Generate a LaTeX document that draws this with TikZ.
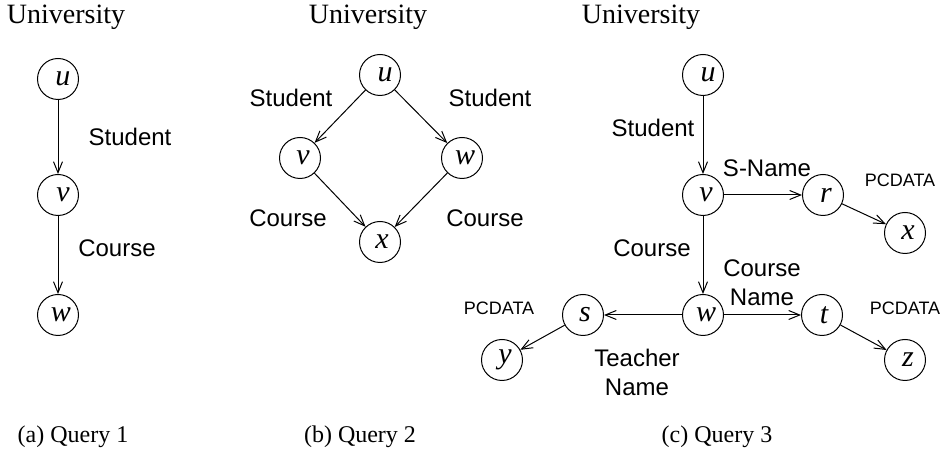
\documentclass[tikz,border=0pt]{standalone}
\usepackage{fontspec}
\setmainfont{Liberation Serif}
\setsansfont{Liberation Sans}
\usetikzlibrary{arrows.meta}
\begin{document}
\begin{tikzpicture}[x=0.5pt,y=-0.5pt,
  nd/.style={circle,draw,line width=0.5pt,minimum size=20.5pt,inner sep=0pt,font=\fontsize{15}{15}\selectfont\itshape},
  ed/.style={line width=0.5pt,-{Straight Barb[length=5.5pt,width=4.5pt]}},
  lb/.style={font=\fontsize{12}{14.5}\selectfont\sffamily,align=center},
  sm/.style={font=\fontsize{9}{10}\selectfont\sffamily},
  tt/.style={font=\fontsize{14}{16}\selectfont},
  captxt/.style={font=\fontsize{12}{14}\selectfont}]
\useasboundingbox (0,0) rectangle (948,458);
% (a)
\node[tt] (ta) at (66,17) {University};
\node[nd] (au) at (58,79) {\hspace*{5pt}u};
\node[nd] (av) at (58,195) {\hspace*{5pt}v};
\node[nd] (aw) at (58,315) {\hspace*{3pt}w};
\draw[ed] (au) -- (av);
\draw[ed] (av) -- (aw);
\node[lb] (al1) at (130,137) {Student};
\node[lb] (al2) at (117,248) {Course};
\node[captxt] (ca) at (73,437) {(a) Query 1};
% (b)
\node[tt] (tb) at (368,17) {University};
\node[nd] (bu) at (380,75) {\hspace*{5pt}u};
\node[nd] (bv) at (300,158) {\hspace*{3pt}v};
\node[nd] (bw) at (462,158) {\hspace*{3pt}w};
\node[nd] (bx) at (380,242) {\hspace*{2pt}x};
\draw[ed] (bu) -- (bv);
\draw[ed] (bu) -- (bw);
\draw[ed] (bv) -- (bx);
\draw[ed] (bw) -- (bx);
\node[lb] (bl1) at (291,98) {Student};
\node[lb] (bl2) at (490,98) {Student};
\node[lb] (bl3) at (288,218) {Course};
\node[lb] (bl4) at (485,218) {Course};
\node[captxt] (cb) at (360,437) {(b) Query 2};
% (c)
\node[tt] (tc) at (641,17) {University};
\node[nd] (cu) at (703,75) {\hspace*{5pt}u};
\node[nd] (cv) at (703,195) {\hspace*{3pt}v};
\node[nd] (cr) at (823,195) {\hspace*{3pt}r};
\node[nd] (cx) at (905,233) {\hspace*{3pt}x};
\node[nd] (cw) at (703,315) {\hspace*{3pt}w};
\node[nd] (cs) at (583,315) {\hspace*{2pt}s};
\node[nd] (cy) at (502,360) {\hspace*{3pt}y};
\node[nd] (ct) at (822,315) {\hspace*{2pt}t};
\node[nd] (cz) at (905,360) {\hspace*{3pt}z};
\draw[ed] (cu) -- (cv);
\draw[ed] (cv) -- (cr);
\draw[ed] (cr) -- (cx);
\draw[ed] (cv) -- (cw);
\draw[ed] (cw) -- (cs);
\draw[ed] (cs) -- (cy);
\draw[ed] (cw) -- (ct);
\draw[ed] (ct) -- (cz);
\node[lb] (cl1) at (653,128) {Student};
\node[lb] (cl2) at (767,168) {S-Name};
\node[sm] (cl3) at (900,180) {PCDATA};
\node[lb] (cl4) at (652,248) {Course};
\node[lb] (cl5) at (762,283) {Course\\Name};
\node[sm] (cl6) at (499,308) {PCDATA};
\node[sm] (cl7) at (905,308) {PCDATA};
\node[lb] (cl8) at (637,372) {Teacher\\Name};
\node[captxt] (cc) at (717,437) {(c) Query 3};
\end{tikzpicture}
\end{document}
